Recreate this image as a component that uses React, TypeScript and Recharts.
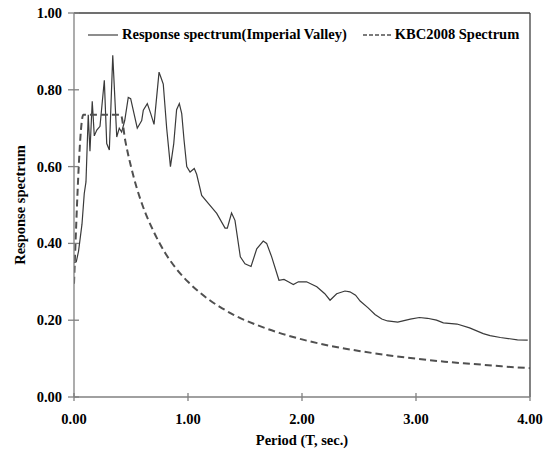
import { LineChart, Line, XAxis, YAxis, ReferenceLine, Legend, Label } from "recharts";

const FONT = '"Liberation Serif", "Times New Roman", serif';

// Response spectrum (Imperial Valley) - period (sec) and Sa values
const responsePeriod = [
  0, 0.02, 0.04, 0.07, 0.09, 0.105, 0.125, 0.14, 0.16, 0.178,
  0.2, 0.228, 0.266, 0.287, 0.31, 0.34, 0.375, 0.397, 0.418, 0.445,
  0.476, 0.497, 0.525, 0.555, 0.594, 0.608, 0.643, 0.673, 0.702, 0.746,
  0.765, 0.783, 0.813, 0.846, 0.875, 0.9, 0.924, 0.945, 0.965, 0.989,
  1.018, 1.055, 1.076, 1.12, 1.178, 1.252, 1.325, 1.345, 1.382, 1.412,
  1.459, 1.5, 1.553, 1.603, 1.66, 1.69, 1.734, 1.798, 1.842, 1.88,
  1.924, 1.968, 2.04, 2.13, 2.2, 2.246, 2.304, 2.377, 2.42, 2.47,
  2.51, 2.58, 2.64, 2.7, 2.75, 2.84, 2.95, 3.03, 3.1, 3.18,
  3.24, 3.36, 3.47, 3.59, 3.65, 3.74, 3.89, 3.98,
];
const responseValue = [
  0.35, 0.352, 0.38, 0.45, 0.53, 0.56, 0.735, 0.64, 0.77, 0.68,
  0.695, 0.705, 0.825, 0.66, 0.643, 0.89, 0.677, 0.7, 0.69, 0.72,
  0.78, 0.777, 0.74, 0.7, 0.72, 0.747, 0.764, 0.738, 0.71, 0.846,
  0.83, 0.815, 0.7, 0.6, 0.66, 0.748, 0.764, 0.738, 0.67, 0.6,
  0.586, 0.595, 0.58, 0.525, 0.504, 0.478, 0.44, 0.44, 0.479, 0.46,
  0.365, 0.347, 0.34, 0.386, 0.406, 0.4, 0.365, 0.304, 0.306, 0.3,
  0.293, 0.3, 0.3, 0.287, 0.269, 0.252, 0.269, 0.276, 0.274, 0.265,
  0.25, 0.232, 0.215, 0.203, 0.198, 0.195, 0.203, 0.207, 0.205, 0.2,
  0.193, 0.19, 0.18, 0.165, 0.16, 0.155, 0.149, 0.148,
];

// KBC2008 design spectrum
const kbcPeriod = [
  0, 0.082, 0.41, 0.45, 0.5, 0.55, 0.6, 0.7, 0.8, 0.9, 1.0, 1.1, 1.2,
  1.3, 1.4, 1.6, 1.8, 2.0, 2.25, 2.5, 2.75, 3.0, 3.25, 3.5, 3.75, 4.0,
];
const kbcValue = [
  0.295, 0.735, 0.735, 0.667, 0.6, 0.545, 0.5, 0.43, 0.375, 0.333, 0.3, 0.273, 0.25,
  0.231, 0.214, 0.188, 0.167, 0.15, 0.133, 0.12, 0.109, 0.1, 0.092, 0.086, 0.08, 0.075,
];

const xTicks = [0, 1, 2, 3, 4];
const yTicks = [0, 0.2, 0.4, 0.6, 0.8, 1.0];

const responseData = responsePeriod.map((t, i) => ({ t, v: responseValue[i] }));
const kbcData = kbcPeriod.map((t, i) => ({ t, v: kbcValue[i] }));

const textStyle = { fontFamily: FONT, fontWeight: 700, fontSize: 14.5, fill: "#000" };

function XTick({ x, y, payload }: any) {
  return (
    <g>
      <line x1={x} x2={x} y1={y - 4} y2={y + 4} stroke="#808080" strokeWidth={1.3} />
      <text x={x} y={y + 27} textAnchor="middle" style={textStyle}>
        {Number(payload.value).toFixed(2)}
      </text>
    </g>
  );
}

function YTick({ x, y, payload }: any) {
  return (
    <g>
      <line x1={x - 6} x2={x + 5} y1={y} y2={y} stroke="#808080" strokeWidth={1.3} />
      <text x={x - 12} y={y + 5} textAnchor="end" style={textStyle}>
        {Number(payload.value).toFixed(2)}
      </text>
    </g>
  );
}

function LegendBox() {
  const s = { fontFamily: FONT, fontWeight: 700, fontSize: 14.5, color: "#000" };
  return (
    <div style={{ display: "flex", alignItems: "center", whiteSpace: "nowrap", ...s }}>
      <svg width={34} height={10}>
        <line x1={0} x2={30} y1={5} y2={5} stroke="#404040" strokeWidth={1.2} />
      </svg>
      <span>Response spectrum(Imperial Valley)</span>
      <svg width={48} height={10} style={{ marginLeft: 16 }}>
        <line x1={0} x2={29} y1={5} y2={5} stroke="#505050" strokeWidth={1.6} strokeDasharray="4 2" />
      </svg>
      <span style={{ marginLeft: -16 }}>KBC2008 Spectrum</span>
    </div>
  );
}

export default function App() {
  return (
    <div style={{ position: "absolute", left: 0, top: 0, width: 552, height: 455, background: "#fff" }}>
      <LineChart width={552} height={455} margin={{ top: 13, right: 22, bottom: 28, left: 14 }}>
        <XAxis
          type="number"
          dataKey="t"
          domain={[0, 4]}
          ticks={xTicks}
          allowDataOverflow
          stroke="#808080"
          strokeWidth={1.3}
          tickSize={0}
          tickMargin={0}
          tick={<XTick />}
          height={30}
        >
          <Label value="Period (T, sec.)" position="bottom" offset={8} style={textStyle} />
        </XAxis>
        <YAxis
          type="number"
          dataKey="v"
          domain={[0, 1]}
          ticks={yTicks}
          allowDataOverflow
          stroke="#808080"
          strokeWidth={1.3}
          tickSize={0}
          tickMargin={0}
          tick={<YTick />}
          width={60}
        >
          <Label value="Response spectrum" angle={-90} position="insideLeft" offset={6} style={{ ...textStyle, textAnchor: "middle" }} />
        </YAxis>
        <ReferenceLine y={1} stroke="#404040" strokeWidth={1.3} />
        <ReferenceLine x={4} stroke="#404040" strokeWidth={1.3} />
        <Legend
          verticalAlign="middle"
          align="center"
          content={<LegendBox />}
          wrapperStyle={{ position: "absolute", top: 26, left: 88, width: "auto" }}
        />
        <Line
          data={responseData}
          dataKey="v"
          type="linear"
          stroke="#3a3a3a"
          strokeWidth={1.2}
          dot={false}
          isAnimationActive={false}
          name="Response spectrum(Imperial Valley)"
        />
        <Line
          data={kbcData}
          dataKey="v"
          type="monotone"
          stroke="#505050"
          strokeWidth={2}
          strokeDasharray="7 4"
          dot={false}
          isAnimationActive={false}
          name="KBC2008 Spectrum"
        />
      </LineChart>
    </div>
  );
}
